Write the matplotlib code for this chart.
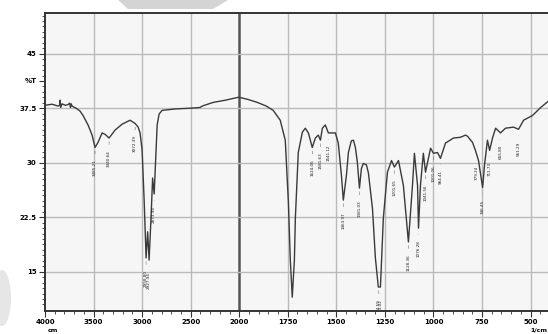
import numpy as np
import matplotlib
matplotlib.use("Agg")
import matplotlib.pyplot as plt
from matplotlib.patches import Polygon, Ellipse

# IR spectrum (wavenumber in 1/cm, transmittance in %T)
wavenumber = [4000, 3928, 3866, 3848, 3845, 3838, 3825, 3790, 3763, 3745, 3738, 3730, 3722,
              3680, 3639, 3608, 3557, 3515, 3485, 3454, 3412, 3381, 3340, 3278, 3206,
              3124, 3072, 3041, 3021, 3000, 2979, 2959, 2943, 2928, 2907, 2892, 2876,
              2861, 2845, 2825, 2794, 2660, 2505, 2402, 2381, 2268, 2144, 2010, 2000,
              1954, 1907, 1861, 1825, 1789, 1763, 1747, 1737, 1727, 1716, 1711, 1696,
              1675, 1660, 1644, 1624, 1608, 1593, 1582, 1572, 1557, 1541, 1531, 1505,
              1490, 1474, 1464, 1448, 1438, 1423, 1412, 1402, 1392, 1381, 1371, 1361,
              1345, 1335, 1314, 1299, 1284, 1273, 1258, 1237, 1216, 1201, 1180, 1155,
              1129, 1108, 1098, 1082, 1077, 1067, 1052, 1041, 1015, 1000, 979, 964,
              938, 897, 861, 835, 825, 799, 784, 768, 747, 737, 722, 711, 696, 680,
              655, 629, 588, 562, 536, 490, 448, 407]
transmittance = [37.9, 38.05, 37.8, 37.9, 38.6, 37.6, 38.1, 37.9, 38.0, 38.2, 37.6, 38.1, 37.8,
                 37.5, 37.1, 36.5, 35.2, 33.8, 32.1, 32.8, 34.1, 33.9, 33.4, 34.5, 35.3,
                 35.85, 35.4, 34.9, 34.1, 31.7, 24.8, 16.9, 20.5, 16.6, 22.8, 27.9, 25.7,
                 30.3, 35.2, 36.7, 37.2, 37.4, 37.5, 37.6, 37.8, 38.3, 38.6, 39.0, 39.0,
                 38.7, 38.3, 37.8, 37.2, 35.85, 33.1, 24.6, 16.6, 11.5, 16.6, 22.4, 31.4,
                 34.2, 34.75, 34.1, 32.1, 33.4, 33.8, 33.1, 34.75, 35.2, 34.1, 34.1, 34.1,
                 32.7, 28.3, 24.85, 28.3, 31.4, 33.0, 33.1, 32.1, 30.1, 26.5, 29.2, 29.9,
                 29.7, 28.6, 23.7, 16.9, 12.9, 12.9, 22.4, 28.7, 30.3, 29.4, 30.3, 26.9,
                 19.1, 26.9, 31.3, 26.9, 21.0, 26.9, 31.3, 28.7, 32.0, 31.3, 31.4, 30.6,
                 32.7, 33.4, 33.5, 33.8, 33.65, 32.8, 31.7, 30.3, 26.6, 29.7, 33.1, 31.7, 33.4, 34.75,
                 34.1, 34.75, 34.9, 34.6, 35.85, 36.5, 37.6, 38.5]

peak_wn = [3485, 3340, 3072, 2959, 2928, 2876, 1727, 1624, 1582, 1541, 1464, 1381,
           1284, 1273, 1201, 1129, 1077, 1041, 1000, 964, 778, 747, 711, 655, 562]
peak_labels = ["3485.21", "3340.64", "3072.39", "2958.80", "2927.94", "2873.94",
               "1726.29", "1624.06", "1581.63", "1541.12", "1463.97", "1381.03",
               "1284.59", "1273.02", "1201.65", "1128.36", "1076.28", "1041.56",
               "1001.06", "964.41", "779.24", "746.45", "711.73", "655.80", "561.29"]

x_major = [4000, 3500, 3000, 2500, 2000, 1750, 1500, 1250, 1000, 750, 500]
y_major = [15, 22.5, 30, 37.5, 45]


# IR charts halve the scale above 2000 1/cm
def forward(w):
    w = np.asarray(w, dtype=float)
    return np.where(w <= 2000, w / 1000.0, 2.0 + (w - 2000) / 2000.0)


def inverse(u):
    u = np.asarray(u, dtype=float)
    return np.where(u <= 2.0, u * 1000.0, 2000.0 + (u - 2.0) * 2000.0)


fig = plt.figure(figsize=(5.48, 3.34), dpi=100)
fig.patch.set_facecolor("white")
ax = fig.add_axes([45 / 548, 1 - 311 / 334, 505 / 548, 298 / 334])
ax.set_facecolor("#f6f6f6")
ax.set_xscale("function", functions=(forward, inverse))
ax.set_xlim(4000, 405)
ax.set_ylim(9.6, 50.6)

# grid
for w in x_major[1:]:
    if w == 2000:
        ax.axvline(w, color="#555555", lw=1.8, zorder=1)
    else:
        ax.axvline(w, color="#bababa", lw=1.0, zorder=1)
for v in y_major:
    ax.axhline(v, color="#bababa", lw=1.0, zorder=1)

ax.plot(wavenumber, transmittance, color="#3a3a3a", lw=1.0, zorder=3)

# peak picks, clipped at the frame like the printout
for w, lab in zip(peak_wn, peak_labels):
    t = np.interp(w, wavenumber[::-1], transmittance[::-1])
    ann = ax.annotate(lab, xy=(w, t - 0.5), xytext=(0, -6), textcoords="offset points",
                      rotation=90, ha="center", va="top", fontsize=3.0, color="#222222",
                      arrowprops=dict(arrowstyle="-", lw=0.4, color="#444444",
                                      linestyle=(0, (1, 1))),
                      zorder=4)
    ann.set_clip_on(True)
    ann.set_clip_box(ax.bbox)

# ticks
minor_x = list(range(4000, 2000, -100)) + list(range(2000, 399, -50))
ax.set_xticks(x_major)
ax.set_xticklabels([str(w) for w in x_major], fontsize=5, fontweight="bold")
ax.set_xticks(minor_x, minor=True)
yt = [15, 22.5, 30, 37.5, 41.25, 45]
ax.set_yticks(yt)
ax.set_yticklabels(["15", "22.5", "30", "37.5", "%T", "45"], fontsize=5, fontweight="bold")
ax.set_yticks(np.arange(10.5, 50.5, 0.75), minor=True)
ax.tick_params(axis="both", which="major", length=4, width=0.8, color="#333333", pad=2)
ax.tick_params(axis="both", which="minor", length=2.5, width=0.6, color="#333333")
for s in ax.spines.values():
    s.set_color("#333333")
    s.set_linewidth(1.4)

fig.text(48 / 548, 1 - 331 / 334, "cm", fontsize=4.5, fontweight="bold", ha="left", va="center")
fig.text(547 / 548, 1 - 330 / 334, "1/cm", fontsize=4.5, fontweight="bold", ha="right", va="center")

# scan artefacts
fig.patches.append(Polygon([(118 / 548, 1.0), (128 / 548, 1 - 9 / 334), (213 / 548, 1 - 9 / 334),
                            (228 / 548, 1.0)], closed=True, transform=fig.transFigure,
                           facecolor="#d4d4d4", edgecolor="none"))
fig.patches.append(Ellipse((2 / 548, 1 - 298 / 334), 18 / 548, 56 / 334, transform=fig.transFigure,
                           facecolor="#e6e6e6", edgecolor="none", zorder=0))

fig.savefig("out.png", dpi=100)
